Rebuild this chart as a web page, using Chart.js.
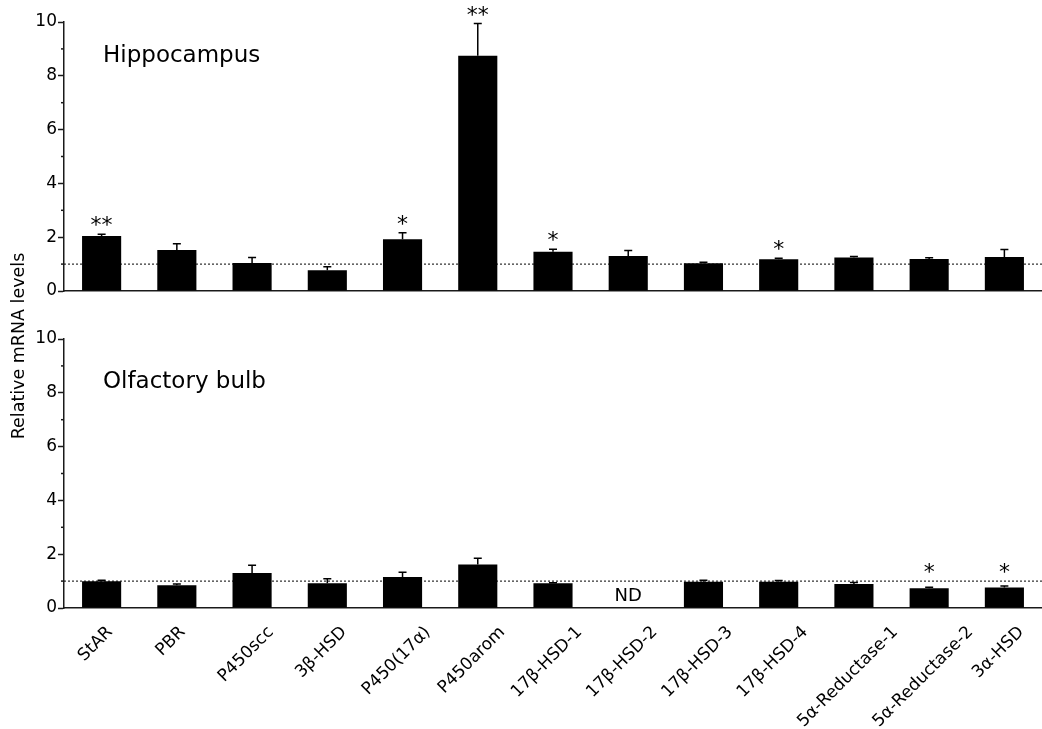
<!DOCTYPE html>
<html>
<head>
<meta charset="utf-8">
<script src="https://cdn.jsdelivr.net/npm/chart.js@4.4.0/dist/chart.umd.min.js"></script>
<style>
  html, body { margin: 0; padding: 0; background: #fff; }
  #wrap { position: relative; width: 1042px; height: 729px; }
  #wrap canvas { position: absolute; left: 0; top: 0; }
</style>
</head>
<body>
<div id="wrap">
  <canvas id="topChart" width="1042" height="729"></canvas>
  <canvas id="bottomChart" width="1042" height="729"></canvas>
</div>
<script>
// Data
const genes = ['StAR', 'PBR', 'P450scc', '3β-HSD', 'P450(17α)', 'P450arom', '17β-HSD-1',
  '17β-HSD-2', '17β-HSD-3', '17β-HSD-4', '5α-Reductase-1', '5α-Reductase-2', '3α-HSD'];

const hippoMean = [2.04, 1.52, 1.04, 0.77, 1.92, 8.75, 1.46, 1.30, 1.03, 1.18, 1.25, 1.19, 1.26];
const hippoSem = [0.07, 0.24, 0.21, 0.13, 0.25, 1.19, 0.09, 0.21, 0.04, 0.04, 0.03, 0.05, 0.28];
const hippoStars = ['**', '', '', '', '*', '**', '*', '', '', '*', '', '', ''];

const olfMean = [0.99, 0.85, 1.30, 0.92, 1.15, 1.62, 0.92, null, 0.98, 0.98, 0.89, 0.73, 0.76];
const olfSem = [0.04, 0.04, 0.29, 0.17, 0.18, 0.23, 0.02, null, 0.05, 0.04, 0.06, 0.04, 0.06];
const olfStars = ['', '', '', '', '', '', '', '', '', '', '', '*', '*'];

const yMin = 0;
const yMax = 10;
const refLevel = 1;

const FONT = "'DejaVu Sans', 'Noto Sans', sans-serif";
const AXIS_COLOR = '#1a1a1a';

Chart.defaults.font.family = FONT;
Chart.defaults.color = '#000';

// Overlay: dotted line, error bars, stars, panel title, rotated gene labels
const overlayPlugin = {
  id: 'overlay',
  beforeDatasetsDraw(chart, args, opts) {
    const { ctx, chartArea } = chart;
    const y = chart.scales.y.getPixelForValue(refLevel);
    ctx.save();
    ctx.setLineDash([2, 2]);
    ctx.strokeStyle = '#000';
    ctx.lineWidth = 1;
    ctx.beginPath();
    ctx.moveTo(chartArea.left, y);
    ctx.lineTo(chartArea.right, y);
    ctx.stroke();
    ctx.restore();
  },
  afterDatasetsDraw(chart, args, opts) {
    const { ctx, chartArea } = chart;
    const xs = chart.scales.x;
    const ys = chart.scales.y;
    ctx.save();

    // minor ticks at odd values
    ctx.strokeStyle = AXIS_COLOR;
    ctx.lineWidth = 1.5;
    for (let v = yMin + 1; v < yMax; v += 2) {
      const py = ys.getPixelForValue(v);
      ctx.beginPath();
      ctx.moveTo(chartArea.left - 3, py);
      ctx.lineTo(chartArea.left, py);
      ctx.stroke();
    }

    // error bars (upper only)
    ctx.strokeStyle = '#000';
    ctx.lineWidth = 1.5;
    opts.mean.forEach((m, i) => {
      if (m === null) return;
      const x = xs.getPixelForValue(i);
      const yTop = ys.getPixelForValue(m + opts.sem[i]);
      const yBar = ys.getPixelForValue(m);
      ctx.beginPath();
      ctx.moveTo(x, yBar);
      ctx.lineTo(x, yTop);
      ctx.moveTo(x - 4, yTop);
      ctx.lineTo(x + 4, yTop);
      ctx.stroke();
    });

    // significance stars above the error bar (or the dotted line)
    ctx.fillStyle = '#000';
    ctx.font = `22px ${FONT}`;
    ctx.textAlign = 'center';
    ctx.textBaseline = 'alphabetic';
    opts.stars.forEach((s, i) => {
      if (!s) return;
      const top = Math.max(opts.mean[i] + opts.sem[i], refLevel);
      ctx.fillText(s, xs.getPixelForValue(i), ys.getPixelForValue(top) - 2);
    });

    // not detected
    opts.mean.forEach((m, i) => {
      if (m !== null) return;
      ctx.font = `18px ${FONT}`;
      ctx.textBaseline = 'middle';
      ctx.fillText('ND', xs.getPixelForValue(i), ys.getPixelForValue(0.42));
    });

    // panel title
    ctx.textAlign = 'left';
    ctx.textBaseline = 'alphabetic';
    ctx.font = `23px ${FONT}`;
    ctx.fillText(opts.title, chartArea.left + 39, chartArea.top + opts.titleDy);

    // gene labels, rotated 45deg, centred under each category, tops aligned
    if (opts.showLabels) {
      ctx.font = `17px ${FONT}`;
      ctx.textAlign = 'center';
      ctx.textBaseline = 'middle';
      chart.data.labels.forEach((lab, i) => {
        const w = ctx.measureText(lab).width;
        const half = (w + 13) * Math.SQRT1_2 / 2;
        ctx.save();
        ctx.translate(xs.getPixelForValue(i) - 6, chartArea.bottom + 17 + half);
        ctx.rotate(-Math.PI / 4);
        ctx.fillText(lab, 0, 0);
        ctx.restore();
      });
    }

    // shared y axis title
    if (opts.yTitle) {
      ctx.translate(19, 346);
      ctx.rotate(-Math.PI / 2);
      ctx.textAlign = 'center';
      ctx.textBaseline = 'middle';
      ctx.font = `17.5px ${FONT}`;
      ctx.fillText(opts.yTitle, 0, 0);
    }
    ctx.restore();
  }
};

function makeOptions(padTop, padBottom, xHeight, overlay) {
  return {
    responsive: false,
    animation: false,
    layout: { padding: { left: 0, right: 0, top: padTop, bottom: padBottom } },
    plugins: {
      legend: { display: false },
      tooltip: { enabled: false },
      overlay: overlay
    },
    scales: {
      x: {
        type: 'category',
        grid: { display: true, drawOnChartArea: false, drawTicks: false },
        border: { display: true, color: AXIS_COLOR, width: 1.5 },
        ticks: { display: false },
        afterFit: (scale) => { scale.height = xHeight; }
      },
      y: {
        min: yMin,
        max: yMax,
        grid: { drawOnChartArea: false, drawTicks: true, tickLength: 6, tickColor: AXIS_COLOR, tickWidth: 1.5 },
        border: { display: true, color: AXIS_COLOR, width: 1.5 },
        ticks: { stepSize: 2, padding: 1, font: { size: 17 }, color: '#000' },
        afterFit: (scale) => { scale.width = 64; }
      }
    }
  };
}

function makeDataset(values) {
  return {
    data: values,
    backgroundColor: '#000',
    borderWidth: 0,
    barPercentage: 0.52,
    categoryPercentage: 1
  };
}

new Chart(document.getElementById('topChart'), {
  type: 'bar',
  data: { labels: genes, datasets: [makeDataset(hippoMean)] },
  options: makeOptions(22, 729 - 291, 0,
    { mean: hippoMean, sem: hippoSem, stars: hippoStars, title: 'Hippocampus', titleDy: 40,
      showLabels: false, yTitle: 'Relative mRNA levels' }),
  plugins: [overlayPlugin]
});

new Chart(document.getElementById('bottomChart'), {
  type: 'bar',
  data: { labels: genes, datasets: [makeDataset(olfMean)] },
  options: makeOptions(339, 0, 121,
    { mean: olfMean, sem: olfSem, stars: olfStars, title: 'Olfactory bulb', titleDy: 49,
      showLabels: true }),
  plugins: [overlayPlugin]
});
</script>
</body>
</html>
